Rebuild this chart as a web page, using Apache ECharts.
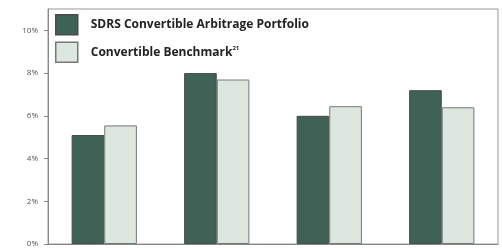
<!DOCTYPE html>
<html>
<head>
<meta charset="utf-8">
<script src="https://cdn.jsdelivr.net/npm/echarts@6/dist/echarts.min.js"></script>
<style>
  html, body { margin: 0; padding: 0; background: #fff; }
  #chart { width: 502px; height: 248px; }
</style>
</head>
<body>
<div id="chart"></div>
<script>
  // data
  var categories = ['1', '2', '3', '4'];
  var portfolio = [5.1, 8.0, 6.0, 7.2];
  var benchmark = [5.55, 7.7, 6.45, 6.4];
  var seriesNames = ['SDRS Convertible Arbitrage Portfolio', 'Convertible Benchmark'];

  var myChart = echarts.init(document.getElementById('chart'));

  var option = {
    animation: false,
    textStyle: { fontFamily: 'Open Sans' },
    grid: {
      left: 48, right: 4, top: 9, bottom: 2,
      show: true, borderColor: '#999', borderWidth: 1
    },
    legend: {
      orient: 'vertical',
      left: 55, top: 14,
      padding: 0,
      icon: 'rect',
      itemWidth: 22, itemHeight: 20, itemGap: 6,
      data: seriesNames,
      formatter: function (name) {
        return name === seriesNames[1] ? name + '{sup|21}' : name;
      },
      itemStyle: { borderWidth: 1.5 },
      textStyle: {
        fontFamily: 'Open Sans',
        fontWeight: 'bold',
        fontSize: 12,
        color: '#222',
        padding: [0, 0, 0, 8],
        rich: {
          sup: { fontSize: 6, fontWeight: 'bold', verticalAlign: 'top', padding: [0, 0, 8, 0], color: '#222' }
        }
      }
    },
    xAxis: {
      type: 'category',
      data: categories,
      axisLine: { show: true, lineStyle: { color: '#888' } },
      axisTick: { show: false },
      axisLabel: { show: false }
    },
    yAxis: {
      type: 'value',
      min: 0, max: 11, interval: 2,
      splitLine: { show: false },
      axisLine: { show: true, lineStyle: { color: '#888' } },
      axisTick: { show: true, length: 4, lineStyle: { color: '#888' } },
      axisLabel: {
        showMaxLabel: false,
        formatter: '{value}%',
        fontSize: 8,
        color: '#555',
        margin: 10
      }
    },
    series: [
      {
        name: seriesNames[0],
        type: 'bar',
        data: portfolio,
        barWidth: '29%',
        barGap: '0%',
        itemStyle: { color: '#3e6356', borderColor: '#4a4a4a', borderWidth: 1 }
      },
      {
        name: seriesNames[1],
        type: 'bar',
        data: benchmark,
        barWidth: '29%',
        itemStyle: { color: '#dce8df', borderColor: '#777', borderWidth: 1 }
      }
    ]
  };

  myChart.setOption(option);
</script>
</body>
</html>
